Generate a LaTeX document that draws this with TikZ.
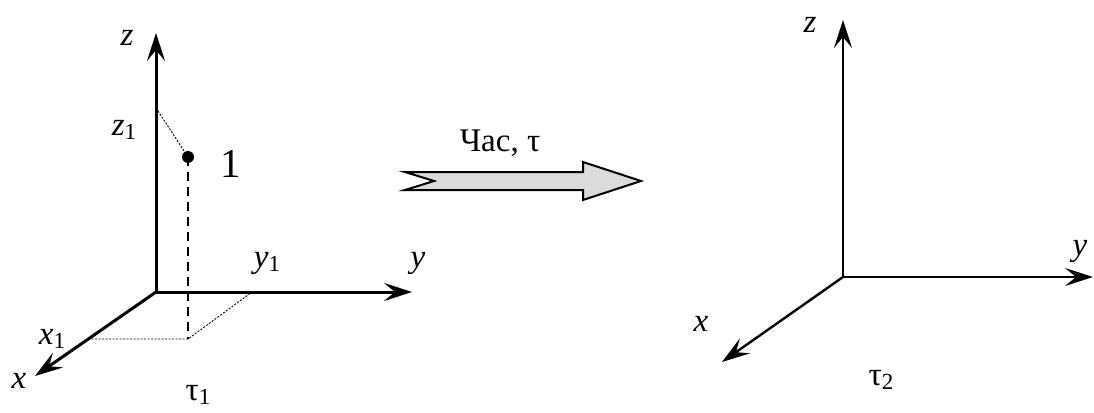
\documentclass[tikz,border=0pt]{standalone}
\usepackage{fontspec}
\setmainfont{Liberation Serif}
\usetikzlibrary{arrows.meta}
\newcommand\subone[1]{\raisebox{-0.3ex}{\upshape\fontsize{23}{23}\selectfont #1}}
\begin{document}
\begin{tikzpicture}[x=1pt,y=-1pt,
  head/.style={-{Stealth[length=28pt,width=18pt,inset=11pt]}},
  axisA/.style={head,line width=3pt},
  axisB/.style={head,line width=2.4pt},
  guide/.style={line width=0.9pt,dash pattern=on 2pt off 1.5pt},
  drop/.style={line width=2.8pt,dash pattern=on 9pt off 6pt},
  lbl/.style={font=\fontsize{33}{33}\selectfont\itshape,inner sep=0pt},
  up/.style={font=\fontsize{33}{33}\selectfont,inner sep=0pt},
  dot/.style={circle,fill=black,inner sep=0pt,minimum size=12pt},
  bigarrow/.style={draw=black,line width=2pt,fill=black!14,line join=miter}]
\useasboundingbox (0,0) rectangle (1094,412);
% left system
\coordinate (O1) at (156,292);
\coordinate (Z1) at (156,33);
\coordinate (Y1) at (412,292);
\coordinate (X1) at (35,376);
\coordinate (zp) at (156,108);
\node[dot] (P) at (188,157) {};
\coordinate (yp) at (252,292);
\coordinate (xp) at (88,339);
\coordinate (Q) at (188,339);
\draw[guide] (zp) -- (P.center);
\draw[guide] (xp) -- (Q) -- (yp);
\draw[drop] (P.center) -- (Q);
\draw[axisA] (O1) -- (Z1);
\draw[axisA] (O1) -- (Y1);
\draw[axisA] (O1) -- (X1);
\node[lbl] (lz) at (127,38) {z};
\node[lbl] (lz1) at (124,130) {z\subone{1}};
\node[up,font=\fontsize{41}{41}\selectfont] (l1) at (231,164) {1};
\node[lbl] (ly1) at (267,263) {y\subone{1}};
\node[lbl] (ly) at (418,263) {y};
\node[lbl] (lx1) at (52,339) {x\subone{1}};
\node[lbl] (lx) at (19,381) {x};
\node[up] (t1) at (198,395) {τ\subone{1}};
% transition arrow
\draw[bigarrow] (405,172) -- (583,172) -- (583,162) -- (641,181) -- (583,200) -- (583,190) -- (405,190) -- (434,181) -- cycle;
\node[up] (lab) at (500,143) {Час, τ};
% right system
\coordinate (O2) at (843,277);
\coordinate (Z2) at (843,20);
\coordinate (Y2) at (1093,277);
\coordinate (X2) at (722,362);
\draw[axisB] (O2) -- (Z2);
\draw[axisB] (O2) -- (Y2);
\draw[axisB] (O2) -- (X2);
\node[lbl] (rz) at (810,25) {z};
\node[lbl] (ry) at (1080,251) {y};
\node[lbl] (rx) at (701,324) {x};
\node[up] (t2) at (881,380) {τ\subone{2}};
\end{tikzpicture}
\end{document}
